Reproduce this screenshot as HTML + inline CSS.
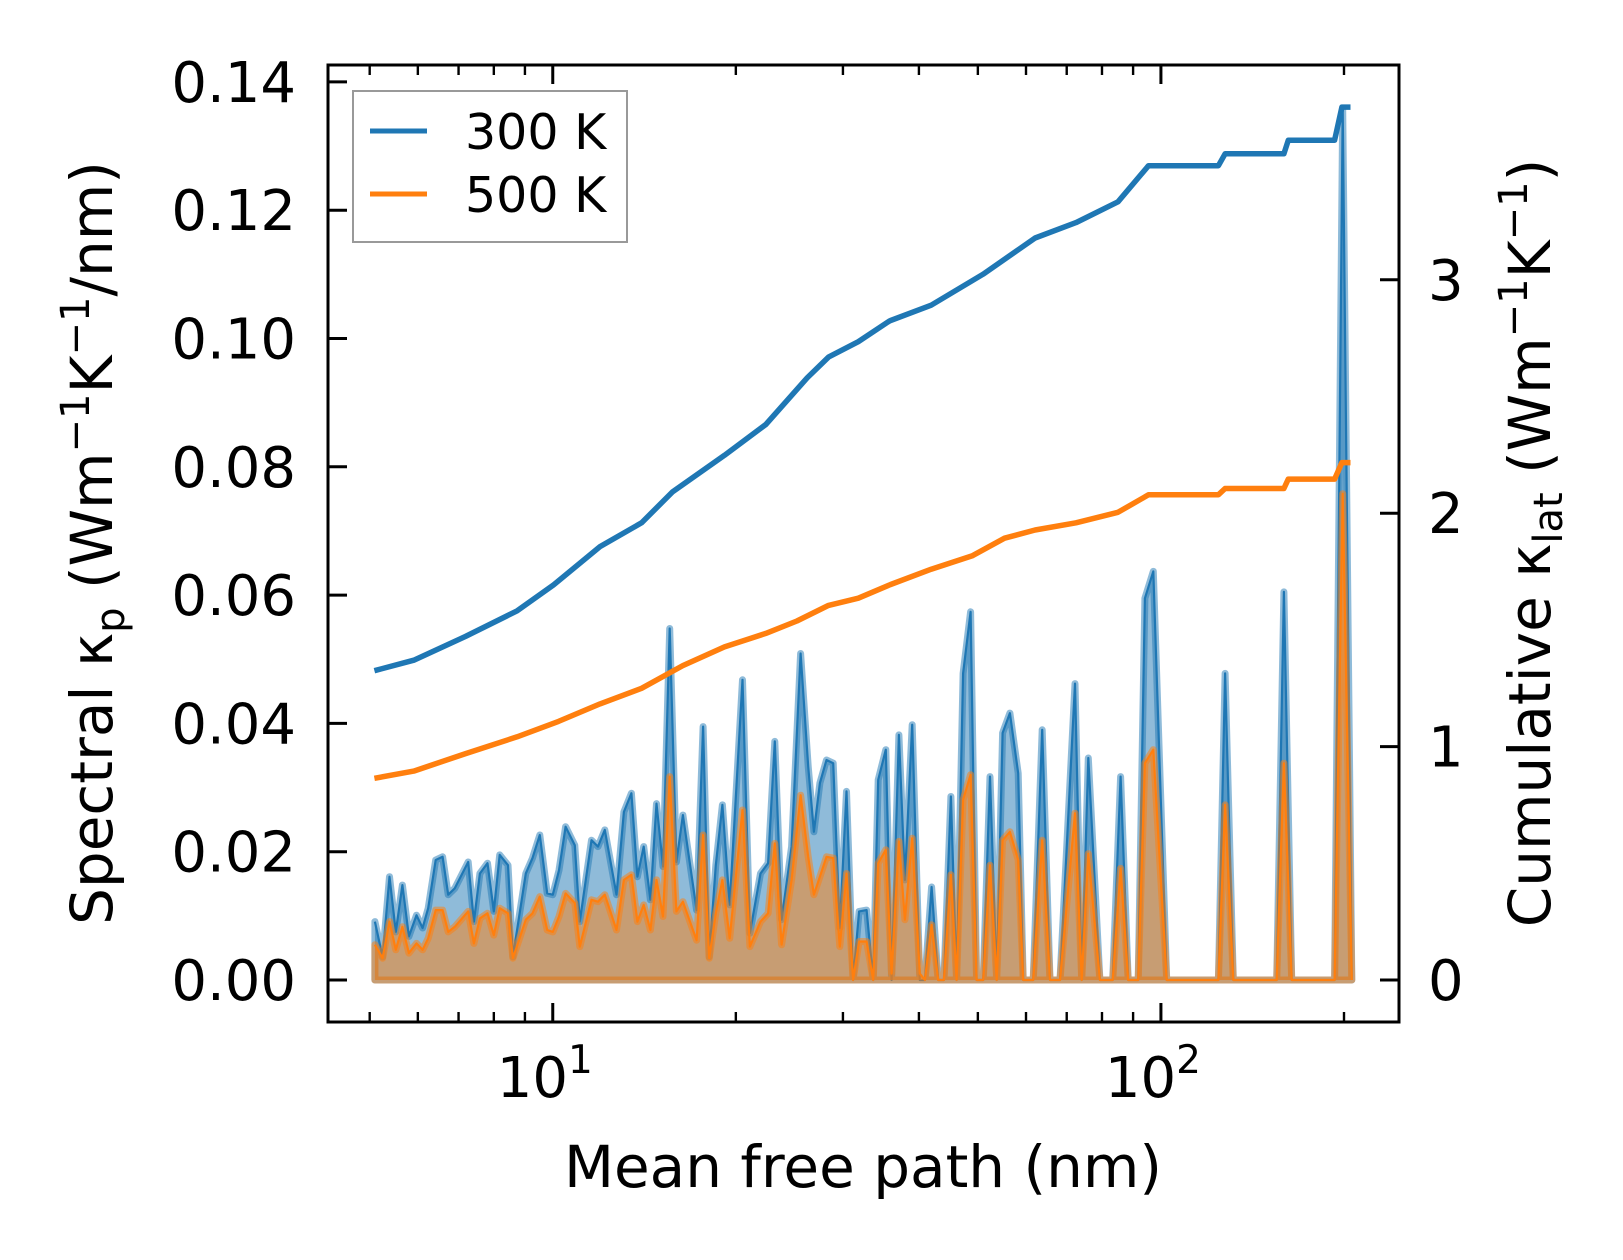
<!DOCTYPE html>
<html><head><meta charset="utf-8"><style>
html,body{margin:0;padding:0;background:#fff;}
svg{display:block;font-family:"DejaVu Sans","Liberation Sans",sans-serif;}
</style></head><body>
<svg id="chart" width="1623" height="1260" viewBox="0 0 1623 1260">
<defs><clipPath id="clip"><rect x="328" y="65" width="1071" height="957"/></clipPath></defs>
<g id="marks" clip-path="url(#clip)"></g>
<g id="axes"></g>
</svg>
<script>
// spectral data (mean free path nm)
const specX = [5.10,5.25,5.39,5.52,5.66,5.80,5.97,6.11,6.24,6.42,6.59,6.73,6.90,7.26,7.42,7.59,7.81,8.00,8.18,8.44,8.60,9.03,9.26,9.52,9.79,10.0,10.24,10.50,10.87,11.08,11.58,11.87,12.18,12.73,13.09,13.47,13.78,14.11,14.47,14.81,15.18,15.57,15.97,16.37,17.24,17.67,18.08,18.54,19.01,19.54,20.51,21.09,21.96,22.60,23.18,23.78,24.70,25.56,26.30,26.88,27.49,28.19,28.91,29.65,30.41,31.18,31.90,32.81,33.64,34.28,35.29,36.07,37.08,37.93,38.99,40.14,40.91,41.97,43.03,43.97,45.15,46.13,47.29,48.64,49.76,51.03,52.35,53.70,54.92,56.45,58.26,59.37,61.66,63.80,65.70,68.23,72.24,74.09,75.96,79.38,83.30,85.85,88.36,91.77,94.12,97.14,102.2,124.3,127.5,131.5,155.0,159.3,164.1,193.0,199.0,206.0];
const spec300 = [0.0091,0.0036,0.0161,0.0075,0.0148,0.0068,0.0101,0.0081,0.0112,0.0187,0.0192,0.0133,0.0143,0.0184,0.0091,0.0166,0.0182,0.0107,0.0195,0.0179,0.0036,0.0166,0.0190,0.0226,0.0135,0.0133,0.0171,0.0239,0.0210,0.0091,0.0218,0.0208,0.0234,0.0133,0.0262,0.0291,0.0161,0.0208,0.0125,0.0275,0.0177,0.0548,0.0184,0.0257,0.0109,0.0395,0.0036,0.0179,0.0273,0.0117,0.0468,0.0073,0.0166,0.0182,0.0372,0.0094,0.0208,0.0509,0.0333,0.0231,0.0307,0.0343,0.0338,0.0081,0.0294,0.0,0.0107,0.0109,0.0,0.0312,0.0359,0.0,0.0382,0.0156,0.0398,0.0,0.0,0.0145,0.0,0.0,0.0286,0.0,0.0478,0.0574,0.0,0.0,0.0317,0.0,0.0385,0.0416,0.0322,0.0,0.0,0.0390,0.0,0.0,0.0462,0.0,0.0346,0.0,0.0,0.0317,0.0,0.0,0.0595,0.0637,0.0,0.0,0.0478,0.0,0.0,0.0605,0.0,0.0,0.1357,0.0];
const spec500 = [0.0055,0.0034,0.0091,0.0047,0.0083,0.0042,0.0057,0.0047,0.0065,0.0109,0.0109,0.0075,0.0083,0.0107,0.0057,0.0096,0.0104,0.0070,0.0112,0.0104,0.0034,0.0094,0.0104,0.0130,0.0078,0.0075,0.0099,0.0135,0.0120,0.0052,0.0125,0.0122,0.0133,0.0078,0.0156,0.0164,0.0091,0.0117,0.0078,0.0156,0.0099,0.0317,0.0107,0.0122,0.0062,0.0226,0.0034,0.0104,0.0156,0.0065,0.0265,0.0052,0.0091,0.0104,0.0213,0.0055,0.0156,0.0288,0.0192,0.0133,0.0161,0.0192,0.0190,0.0052,0.0166,0.0,0.0060,0.0060,0.0,0.0182,0.0203,0.0010,0.0216,0.0094,0.0221,0.0010,0.0,0.0086,0.0,0.0,0.0164,0.0,0.0281,0.0320,0.0,0.0,0.0179,0.0,0.0218,0.0231,0.0187,0.0,0.0,0.0218,0.0,0.0,0.0260,0.0,0.0197,0.0,0.0,0.0174,0.0,0.0,0.0338,0.0359,0.0,0.0,0.0273,0.0,0.0,0.0338,0.0,0.0,0.0758,0.0];
// cumulative data
const cumX300 = [5.09,5.91,7.19,8.74,10.03,11.96,14.0,15.75,19.16,22.4,26.2,28.4,31.8,35.8,41.9,51.0,62.1,72.5,85.0,95.4,124.3,127.5,159.3,162.0,193.0,198.4,205.0];
const cum300 = [1.325,1.370,1.472,1.582,1.693,1.857,1.959,2.092,2.248,2.380,2.580,2.669,2.735,2.824,2.891,3.024,3.179,3.245,3.334,3.489,3.489,3.540,3.540,3.598,3.598,3.740,3.740];
const cumX500 = [5.09,5.91,7.19,8.74,10.22,11.96,14.0,16.36,19.16,22.4,25.2,28.4,31.8,35.8,41.9,48.9,55.3,62.1,72.5,85.0,95.4,124.3,127.5,159.3,162.0,193.0,198.4,205.0];
const cum500 = [0.864,0.895,0.970,1.042,1.108,1.183,1.250,1.347,1.427,1.485,1.538,1.605,1.636,1.693,1.760,1.817,1.893,1.928,1.959,2.004,2.079,2.079,2.106,2.106,2.146,2.146,2.217,2.217];
const leftTicks = [0,0.02,0.04,0.06,0.08,0.10,0.12,0.14];
const leftTickLabels = ["0.00","0.02","0.04","0.06","0.08","0.10","0.12","0.14"];
const rightTicks = [0,1,2,3];
const rightTickLabels = ["0","1","2","3"];
const xMajor = [10,100];
const xMajorExp = ["1","2"];

const NS="http://www.w3.org/2000/svg";
const X0=328,X1=1399,Y0=65,Y1=1022;
const LXMIN=Math.log10(4.27),LXMAX=Math.log10(246.3);
function sx(v){return X0+(Math.log10(v)-LXMIN)/(LXMAX-LXMIN)*(X1-X0);}
function syL(v){return 980 - v*6415;}
function syR(v){return 980 - v*233.4;}
function mk(tag,attrs,parent){const e=document.createElementNS(NS,tag);for(const k in attrs)e.setAttribute(k,attrs[k]);parent.appendChild(e);return e;}
const marks=document.getElementById('marks'), axes=document.getElementById('axes');

function drawSpec(xs,ys,color,name){
  let pts=xs.map((x,i)=>sx(x).toFixed(1)+','+syL(ys[i]).toFixed(1));
  let poly=pts.join(' ')+' '+sx(xs[xs.length-1]).toFixed(1)+','+syL(0)+' '+sx(xs[0]).toFixed(1)+','+syL(0);
  const f=mk('polygon',{points:poly,fill:color,'fill-opacity':0.5,stroke:color,'stroke-opacity':0.5,'stroke-width':7,'stroke-linejoin':'round'},marks);
  
  
  const l=mk('polyline',{points:pts.join(' '),fill:'none',stroke:color,'stroke-width':2.2,'stroke-linejoin':'round'},marks);
  
  
}
drawSpec(specX,spec300,'#1f77b4','spectral-300k');
drawSpec(specX,spec500,'#ff7f0e','spectral-500k');
function drawCum(xs,ys,color,name){
  const pts=xs.map((x,i)=>sx(x).toFixed(1)+','+syR(ys[i]).toFixed(1)).join(' ');
  const l=mk('polyline',{points:pts,fill:'none',stroke:color,'stroke-width':5.5,'stroke-linejoin':'round'},marks);
  
  
}
drawCum(cumX300,cum300,'#1f77b4','cumulative-300k');
drawCum(cumX500,cum500,'#ff7f0e','cumulative-500k');

const fr=mk('rect',{x:X0,y:Y0,width:X1-X0,height:Y1-Y0,fill:'none',stroke:'#000','stroke-width':3},axes);


leftTicks.forEach((v,i)=>{
  const y=syL(v);
  const t=mk('line',{x1:X0,x2:X0+19,y1:y,y2:y,stroke:'#000','stroke-width':3},axes);
  
  
  const tx=mk('text',{x:296,y:y+20,'text-anchor':'end','font-size':56},axes);
  tx.textContent=leftTickLabels[i];
  
  
});
rightTicks.forEach((v,i)=>{
  const y=syR(v);
  const t=mk('line',{x1:X1,x2:X1-19,y1:y,y2:y,stroke:'#000','stroke-width':3},axes);
  
  
  const tx=mk('text',{x:1428,y:y+20,'font-size':56},axes);
  tx.textContent=rightTickLabels[i];
  
  
});
for(let d=1;d<=100;d*=10){for(let m=1;m<=9;m++){const v=m*d;if(v<4.27||v>246.3)continue;
  const major=(m===1);const x=sx(v);const L=major?19:10;
  [[Y1,Y1-L],[Y0,Y0+L]].forEach(p=>{const t=mk('line',{x1:x,x2:x,y1:p[0],y2:p[1],stroke:'#000','stroke-width':major?3:2.4},axes);
  
  });
}}
xMajor.forEach((v,i)=>{
  const tx=mk('text',{x:sx(v)-8,y:1097,'text-anchor':'middle','font-size':56},axes);
  tx.textContent='10';
  const s=mk('tspan',{dy:-24,'font-size':39},tx);s.textContent=xMajorExp[i];
  
  
});
</script>
<svg width="1623" height="1260" style="position:absolute;left:0;top:0" font-family="DejaVu Sans, Liberation Sans, sans-serif">
<text x="863" y="1187" text-anchor="middle" font-size="58">Mean free path (nm)</text>
<text transform="translate(112,543) rotate(-90)" text-anchor="middle" font-size="58">Spectral κ<tspan font-size="40" dy="12">p</tspan><tspan dy="-12"> (Wm</tspan><tspan font-size="40" dy="-23">−1</tspan><tspan dy="23">K</tspan><tspan font-size="40" dy="-23">−1</tspan><tspan dy="23">/nm)</tspan></text>
<text transform="translate(1550,543) rotate(-90)" text-anchor="middle" font-size="58">Cumulative κ<tspan font-size="40" dy="12">lat</tspan><tspan dy="-12"> (Wm</tspan><tspan font-size="40" dy="-23">−1</tspan><tspan dy="23">K</tspan><tspan font-size="40" dy="-23">−1</tspan><tspan dy="23">)</tspan></text>
<g>
<rect x="353" y="91" width="274" height="151" fill="#fff" fill-opacity="0.8" stroke="#999" stroke-width="2"/>
<line x1="370" x2="427" y1="131" y2="131" stroke="#1f77b4" stroke-width="5"/>
<text x="465" y="149" font-size="49">300 K</text>
<line x1="370" x2="427" y1="194" y2="194" stroke="#ff7f0e" stroke-width="5"/>
<text x="465" y="212" font-size="49">500 K</text>
</g>
</svg>
</body></html>
